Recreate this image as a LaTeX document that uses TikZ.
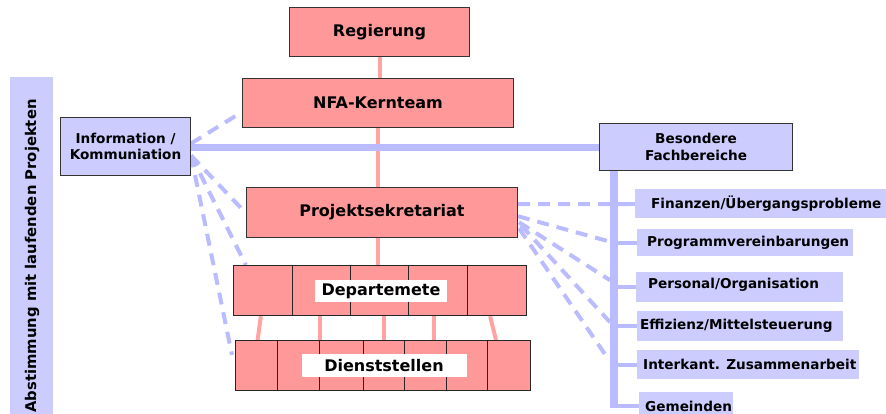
\documentclass[tikz,border=0pt]{standalone}
\usepackage{fontspec}
\setmainfont{DejaVu Sans}
\usetikzlibrary{calc}
\pgfdeclarelayer{background}
\pgfsetlayers{background,main}
\definecolor{rosa}{HTML}{FF9999}
\definecolor{rosaline}{HTML}{FFA3A3}
\definecolor{lila}{HTML}{CCCCFF}
\definecolor{lilaline}{HTML}{BBBBFF}
\definecolor{rand}{HTML}{333333}

\begin{document}
\begin{tikzpicture}[x=1pt,y=-1pt,
  orgbox/.style={draw=rand, line width=1pt, fill=rosa, inner sep=0pt, anchor=north west,
    font=\bfseries\fontsize{16}{19}\selectfont},
  cellbox/.style={draw=black!85, line width=1.2pt, fill=rosa, inner sep=0pt, anchor=north west},
  tag/.style={fill=white, inner sep=0pt, font=\bfseries\fontsize{16}{19}\selectfont},
  infobox/.style={draw=rand, line width=1pt, fill=lila, inner sep=0pt, anchor=north west,
    align=center, font=\bfseries\fontsize{13.6}{16.5}\selectfont},
  areabox/.style={fill=lila, inner sep=0pt, anchor=north west},
  areatext/.style={anchor=west, inner sep=0pt, font=\bfseries\fontsize{13.6}{16}\selectfont},
  orgline/.style={draw=rosaline, line width=4pt},
  mainlink/.style={draw=lilaline, line width=7pt},
  trunkline/.style={draw=lilaline, line width=8pt},
  branch/.style={draw=lilaline, line width=4pt},
  dashlink/.style={draw=lilaline, line width=4pt, dash pattern=on 12pt off 8pt},
]
\useasboundingbox (0,0) rectangle (886,414);

% side band
\node[fill=lila, inner sep=0pt, minimum width=43pt, minimum height=345pt, anchor=north west]
  (band) at (10,77) {};
\node[rotate=90, inner sep=0pt, font=\bfseries\fontsize{14.8}{17}\selectfont]
  (bandtext) at (32,256) {Abstimmung mit laufenden Projekten};

% hierarchy
\node[orgbox, minimum width=180pt, minimum height=49pt] (reg) at (289,7) {Regierung};
\node[orgbox, minimum width=271pt, minimum height=49pt] (nfa) at (242,78) {NFA-Kernteam};
\node[orgbox, minimum width=271pt, minimum height=49.5pt] (proj) at (246,187) {Projektsekretariat};

% departments row
\node[cellbox, minimum width=58.5pt, minimum height=50pt] (d1) at (233,265) {};
\node[cellbox, minimum width=58.5pt, minimum height=50pt] (d2) at (291.5,265) {};
\node[cellbox, minimum width=58pt, minimum height=50pt] (d3) at (350,265) {};
\node[cellbox, minimum width=59pt, minimum height=50pt] (d4) at (408,265) {};
\node[cellbox, minimum width=59pt, minimum height=50pt] (d5) at (467,265) {};
\node[tag, minimum width=132pt, minimum height=22pt] (deplabel) at (381,291) {Departemete};

% offices row
\node[cellbox, minimum width=42pt, minimum height=50pt] (s1) at (235,340) {};
\node[cellbox, minimum width=42pt, minimum height=50pt] (s2) at (277,340) {};
\node[cellbox, minimum width=44pt, minimum height=50pt] (s3) at (319,340) {};
\node[cellbox, minimum width=41pt, minimum height=50pt] (s4) at (363,340) {};
\node[cellbox, minimum width=42pt, minimum height=50pt] (s5) at (404,340) {};
\node[cellbox, minimum width=41pt, minimum height=50pt] (s6) at (446,340) {};
\node[cellbox, minimum width=43pt, minimum height=50pt] (s7) at (487,340) {};
\node[tag, minimum width=165pt, minimum height=23pt] (dstlabel) at (384,365.5) {Dienststellen};

% information and special areas
\node[infobox, minimum width=130pt, minimum height=58pt] (info) at (60,117) {Information /\\Kommuniation};
\node[infobox, minimum width=193pt, minimum height=47pt] (bes) at (599,123) {Besondere\\Fachbereiche};

\node[areabox, minimum width=251pt, minimum height=29pt] (finbox) at (635,189) {};
\node[areatext] (fintext) at ($(finbox.west)+(16,0)$) {Finanzen/Übergangsprobleme};
\node[areabox, minimum width=216pt, minimum height=27pt] (progbox) at (637,229) {};
\node[areatext] (progtext) at ($(progbox.west)+(10,0)$) {Programmvereinbarungen};
\node[areabox, minimum width=207pt, minimum height=30pt] (persbox) at (636,272) {};
\node[areatext] (perstext) at ($(persbox.west)+(12,-2)$) {Personal/Organisation};
\node[areabox, minimum width=206pt, minimum height=30pt] (effbox) at (637,311) {};
\node[areatext] (efftext) at ($(effbox.west)+(3,0)$) {Effizienz/Mittelsteuerung};
\node[areabox, minimum width=222pt, minimum height=29pt] (interbox) at (637,350) {};
\node[areatext] (intertext) at ($(interbox.west)+(6,0)$) {Interkant. Zusammenarbeit};
\node[areabox, minimum width=94pt, minimum height=28pt] (gembox) at (639,392) {};
\node[areatext] (gemtext) at ($(gembox.west)+(6,0)$) {Gemeinden};

\coordinate (trunktop) at ($(bes.south west)+(15,0)$);

\begin{pgfonlayer}{background}
  % hierarchy connectors
  \draw[orgline] (reg.south) -- (reg.south |- nfa.north);
  \draw[orgline] (nfa.south) -- (nfa.south |- proj.north);
  \draw[orgline] (nfa.south |- proj.south) -- (nfa.south |- d3.north);
  \draw[orgline] ($(d1.south)+(-2,0)$) -- ($(s1.north)+(1,0)$);
  \draw[orgline] ($(s3.north west)+(1,-25)$) -- ($(s3.north west)+(1,0)$);
  \draw[orgline] ($(s4.north)+(0,-25)$) -- (s4.north);
  \draw[orgline] ($(s5.north)+(8,-25)$) -- ($(s5.north)+(8,0)$);
  \draw[orgline] ($(d5.south)+(-7,0)$) -- ($(s7.north west)+(9,0)$);

  % main information link and branch trunk
  \draw[mainlink] ($(info.east)+(0,1.5)$) -- ($(info.east -| bes.west)+(0,1.5)$);
  \draw[trunkline] (trunktop) -- ($(trunktop |- gembox.west)+(0,2)$);
  \foreach \b in {finbox,progbox,persbox,effbox,interbox,gembox}
    \draw[branch] (trunktop |- \b.west) -- (\b.west);

  % dashed links from information
  \draw[dashlink] ($(info.east)+(0,-3)$) -- ($(nfa.west)+(0,9)$);
  \draw[dashlink] ($(info.east)+(0,9)$) -- ($(proj.west)+(0,1)$);
  \draw[dashlink] ($(info.east)+(0,9)$) -- ($(d1.north)+(-17,0)$);
  \draw[dashlink] ($(info.east)+(0,9)$) -- ($(s1.north west)+(-3,15)$);

  % dashed links from the secretariat
  \draw[dashlink] ($(proj.east)+(0,-8)$) -- ($(finbox.west)+(0,0.5)$);
  \draw[dashlink] ($(proj.east)+(0,4)$) -- ($(trunktop |- progbox.west)+(-4,-1)$);
  \draw[dashlink] ($(proj.east)+(1,10)$) -- ($(trunktop |- persbox.west)+(-4,-7)$);
  \draw[dashlink] ($(proj.east)+(3,13)$) -- ($(trunktop |- effbox.west)+(-4,-4)$);
  \draw[dashlink] ($(proj.east)+(1,16)$) -- ($(trunktop |- interbox.west)+(-6,-6)$);
\end{pgfonlayer}
\end{tikzpicture}
\end{document}
